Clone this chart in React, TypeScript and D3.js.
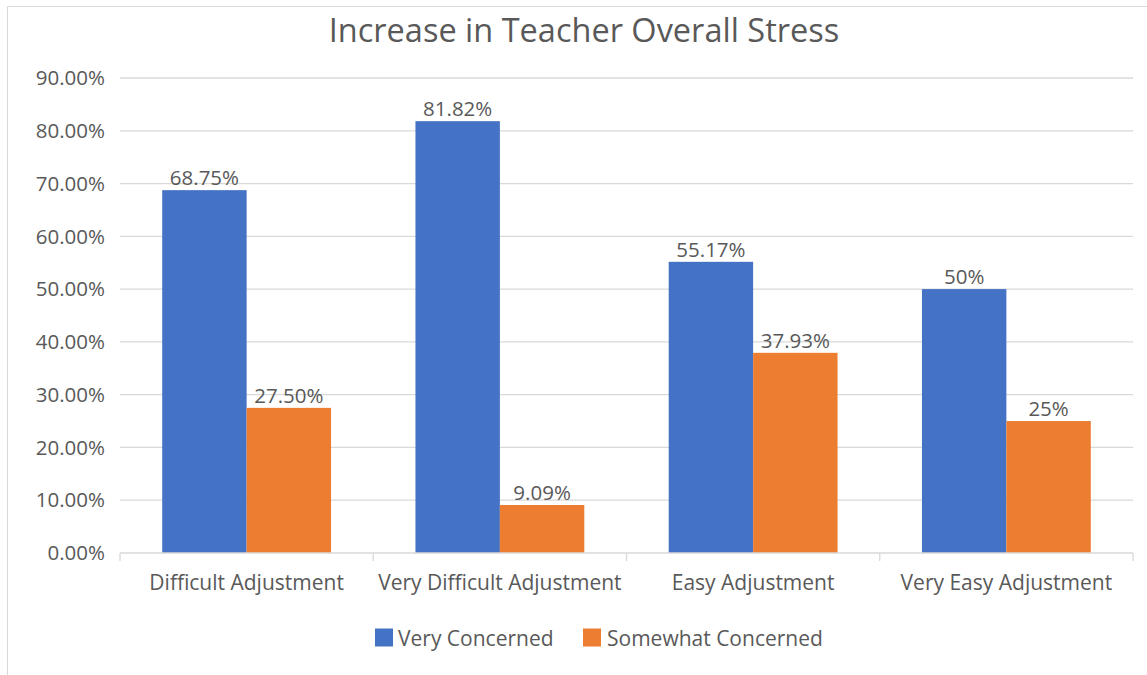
import React from "react";
import * as d3 from "d3";

const categories = ["Difficult Adjustment", "Very Difficult Adjustment", "Easy Adjustment", "Very Easy Adjustment"];
const seriesNames = ["Very Concerned", "Somewhat Concerned"];
const veryConcerned = [68.75, 81.82, 55.17, 50];
const somewhatConcerned = [27.5, 9.09, 37.93, 25];
const valueLabels = [["68.75%", "81.82%", "55.17%", "50%"], ["27.50%", "9.09%", "37.93%", "25%"]];
const yTicks = [0, 10, 20, 30, 40, 50, 60, 70, 80, 90];
const colors = ["#4472C4", "#ED7D31"];

const W = 1147, H = 675;
const FONT = "'Open Sans', 'Noto Sans', sans-serif";
const TEXT = "#595959";

export default function App() {
  const x0 = d3.scaleBand<string>().domain(categories).range([120, 1133]).paddingInner(0).paddingOuter(0);
  const y = d3.scaleLinear().domain([0, 90]).range([553, 78]);
  const bw = x0.bandwidth();
  const barW = bw / 3;
  const series = [veryConcerned, somewhatConcerned];

  return (
    <svg width={W} height={H} style={{ position: "absolute", left: 0, top: 0, background: "#fff" }} fontFamily={FONT}>
      <rect x={7.5} y={6.5} width={W + 10} height={H + 10} fill="#fff" stroke="#d9d9d9" />
      <text x={584} y={42} textAnchor="middle" fontSize={32.5} fill={TEXT}>Increase in Teacher Overall Stress</text>
      {yTicks.map((t) => (
        <g key={t}>
          {t > 0 && <line x1={120} x2={1133} y1={y(t)} y2={y(t)} stroke="#d9d9d9" strokeWidth={1.3} />}
          <text x={105} y={y(t)} dy="0.35em" textAnchor="end" fontSize={20.5} fill={TEXT}>{t.toFixed(2) + "%"}</text>
        </g>
      ))}
      {series.map((vals, si) =>
        vals.map((v, ci) => {
          const bx = (x0(categories[ci]) as number) + barW / 2 + si * barW;
          return (
            <g key={si + "-" + ci}>
              <rect x={bx} y={y(v)} width={barW} height={y(0) - y(v)} fill={colors[si]} />
              <text x={bx + barW / 2} y={y(v) - 5} textAnchor="middle" fontSize={20.5} fill={TEXT}>{valueLabels[si][ci]}</text>
            </g>
          );
        })
      )}
      <line x1={120} x2={1133} y1={y(0)} y2={y(0)} stroke="#d9d9d9" strokeWidth={1.3} />
      {[0, 1, 2, 3, 4].map((i) => {
        const xx = 120 + i * bw;
        return <line key={i} x1={xx} x2={xx} y1={y(0)} y2={y(0) + 8} stroke="#d9d9d9" strokeWidth={1.3} />;
      })}
      {categories.map((c) => (
        <text key={c} x={(x0(c) as number) + bw / 2} y={590} textAnchor="middle" fontSize={21} fill={TEXT}>{c}</text>
      ))}
      <g>
        <rect x={375} y={628.5} width={18} height={18} fill={colors[0]} />
        <text x={398} y={646} fontSize={21} fill={TEXT}>{seriesNames[0]}</text>
        <rect x={583} y={628.5} width={18} height={18} fill={colors[1]} />
        <text x={607} y={646} fontSize={21} fill={TEXT}>{seriesNames[1]}</text>
      </g>
    </svg>
  );
}
